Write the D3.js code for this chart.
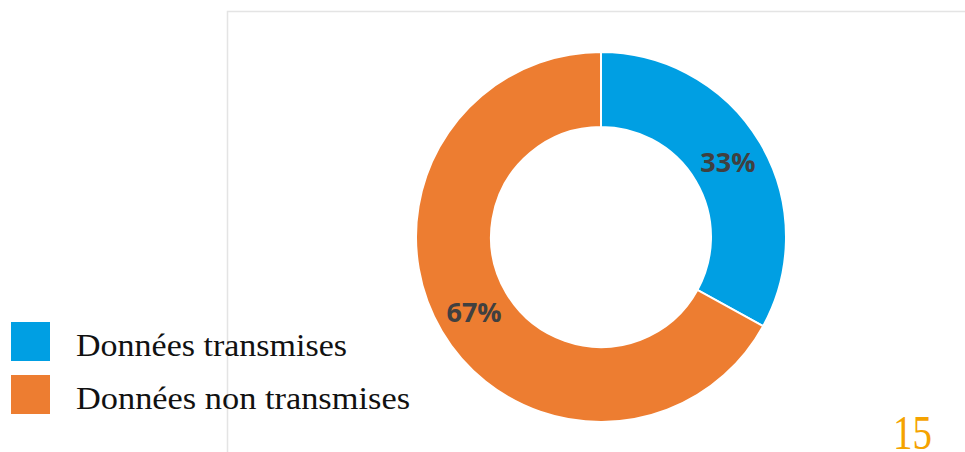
<!DOCTYPE html>
<html><head><meta charset="utf-8">
<script src="https://cdn.jsdelivr.net/npm/d3@7"></script>
<style>body{margin:0;background:#fff}svg{display:block}</style>
</head><body>
<svg id="c" width="965" height="452"></svg>
<script>
const categories = ["Données transmises", "Données non transmises"];
const values = [33, 67];
const labels = ["33%", "67%"];
const colors = ["#009FE3", "#ED7D31"];
const pageNumber = "15";

const svg = d3.select("#c");
// frame
svg.append("path").attr("d", "M227.5,452 V11.5 H965")
  .attr("fill", "none").attr("stroke", "#e4e4e4").attr("stroke-width", 1.5);

const cx = 601, cy = 237, rOuter = 185, rInner = 110;
const pie = d3.pie().sort(null).value(d => d)(values);
const arc = d3.arc().innerRadius(rInner).outerRadius(rOuter);
const labelArc = d3.arc().innerRadius((rInner + rOuter) / 2).outerRadius((rInner + rOuter) / 2);
const g = svg.append("g").attr("transform", `translate(${cx},${cy})`);
g.selectAll("path.s").data(pie).join("path").attr("class", "s")
  .attr("d", arc).attr("fill", (d, i) => colors[i])
  .attr("stroke", "#fff").attr("stroke-width", 2);
g.selectAll("text").data(pie).join("text")
  .attr("transform", d => `translate(${labelArc.centroid(d)})`)
  .attr("text-anchor", "middle").attr("dy", "0.36em")
  .attr("font-family", "'Open Sans', sans-serif").attr("font-weight", 700)
  .attr("font-size", 27).attr("fill", "#404040")
  .text((d, i) => labels[i]);

// legend
const lg = svg.append("g");
const legendWidths = [271, 334];
categories.forEach((c, i) => {
  const y = 322 + i * 53;
  lg.append("rect").attr("x", 11).attr("y", y).attr("width", 39).attr("height", 39).attr("fill", colors[i]);
  lg.append("text").attr("x", 76).attr("y", y + 34)
    .attr("font-family", "'Liberation Serif', 'DejaVu Serif', serif")
    .attr("font-size", 31).attr("fill", "#111")
    .attr("textLength", legendWidths[i]).attr("lengthAdjust", "spacingAndGlyphs")
    .text(c);
});

svg.append("text").attr("x", 932).attr("y", 449).attr("text-anchor", "end")
  .attr("font-family", "'Liberation Serif', serif").attr("font-size", 48)
  .attr("textLength", 39).attr("lengthAdjust", "spacingAndGlyphs")
  .attr("fill", "#F5A300").text(pageNumber);
</script>
</body></html>
